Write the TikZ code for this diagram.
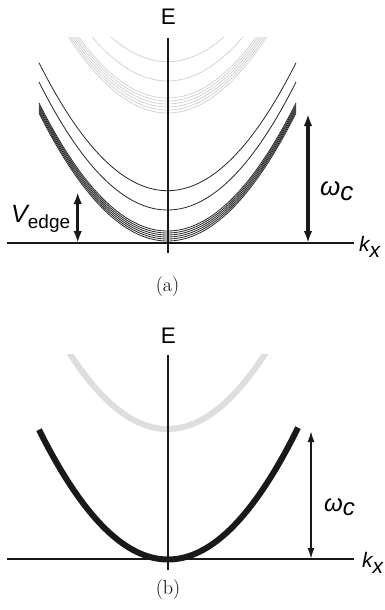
\documentclass[tikz,border=0pt]{standalone}
\usepackage{fontspec}
\newfontfamily\hv{Liberation Sans}
\usetikzlibrary{arrows.meta}
\tikzset{
  axisline/.style={line width=2pt, black!90},
  thinlevel/.style={line width=0.8pt, black!85},
  greylevel/.style={line width=0.65pt, black!20},
  bigarrow/.style={line width=3.5pt, black!90, {Latex[length=12pt,width=8.5pt]}-{Latex[length=12pt,width=8.5pt]}},
  smallarrow/.style={line width=1.6pt, black!90, {Latex[length=11pt,width=7pt]}-{Latex[length=11pt,width=7pt]}},
  sanslabel/.style={inner sep=0pt, font=\hv\fontsize{22.5}{24}\selectfont},
  caption/.style={inner sep=0pt, font=\fontsize{20}{22}\selectfont}
}
\begin{document}
\begin{tikzpicture}[x=1pt,y=-1pt]
\useasboundingbox (0,0) rectangle (385,610);
% ---------------- panel (a) ----------------
\begin{scope}
  \clip (0,38) rectangle (385,260);
  \foreach \v in {61.7,81,98,101,104,107,110,113}
    \draw[greylevel, domain=40:295, samples=80, smooth] plot (\x, {\v - 0.775*((\x-167.5)/10)^2});
\end{scope}
\foreach \v in {190.7,210,231,233,235,237,239,241}
  \draw[thinlevel, domain=39:296, samples=80, smooth] plot (\x, {\v - 0.775*((\x-167.5)/10)^2});
\coordinate (aL) at (7,243);
\coordinate (aR) at (354,243);
\coordinate (aB) at (168,253);
\coordinate (aT) at (168,38);
\draw[axisline] (aL) -- (aR);
\draw[axisline] (aB) -- (aT);
\node[sanslabel, anchor=base] (Ea) at (168.5,24.5) {E};
\node[sanslabel, anchor=base west, font=\hv\fontsize{21}{24}\selectfont] (kxa) at (359,251) {\itshape k\raisebox{-0.3em}{x}};
\coordinate (wcTa) at (308,114);
\coordinate (wcBa) at (308,243);
\draw[bigarrow] (wcBa) -- (wcTa);
\node[sanslabel, anchor=base west, font=\hv\fontsize{26}{28}\selectfont] (wca) at (320,195) {\itshape ω\raisebox{-0.2em}{c}};
\coordinate (veT) at (77.7,192);
\coordinate (veB) at (77.7,243);
\draw[bigarrow] (veB) -- (veT);
\node[sanslabel, anchor=base west, font=\hv\fontsize{25}{28}\selectfont] (ve) at (11,222.3) {\itshape V\upshape\raisebox{-0.25em}{\fontsize{19}{20}\selectfont edge}};
\node[caption, anchor=base] (capa) at (167.5,291) {(a)};
% ---------------- panel (b) ----------------
\begin{scope}
  \clip (0,354) rectangle (385,575);
  \draw[line width=6pt, black!13, domain=50:285, samples=80, smooth] plot (\x, {429 - 0.79*((\x-167.5)/10)^2});
\end{scope}
\draw[line width=6pt, black!90, domain=39:298, samples=80, smooth] plot (\x, {559.5 - 0.78*((\x-168)/10)^2});
\coordinate (bL) at (7,559);
\coordinate (bR) at (354,559);
\coordinate (bB) at (168,570);
\coordinate (bT) at (168,355);
\draw[axisline] (bL) -- (bR);
\draw[axisline] (bB) -- (bT);
\node[sanslabel, anchor=base] (Eb) at (168.5,343.3) {E};
\node[sanslabel, anchor=base west, font=\hv\fontsize{21}{24}\selectfont] (kxb) at (362,567.5) {\itshape k\raisebox{-0.3em}{x}};
\coordinate (wcTb) at (311,431);
\coordinate (wcBb) at (311,559);
\draw[smallarrow] (wcBb) -- (wcTb);
\node[sanslabel, anchor=base west, font=\hv\fontsize{24}{28}\selectfont] (wcb) at (324,511) {\itshape ω\raisebox{-0.2em}{c}};
\node[caption, anchor=base] (capb) at (168,594.5) {(b)};
\end{tikzpicture}
\end{document}
